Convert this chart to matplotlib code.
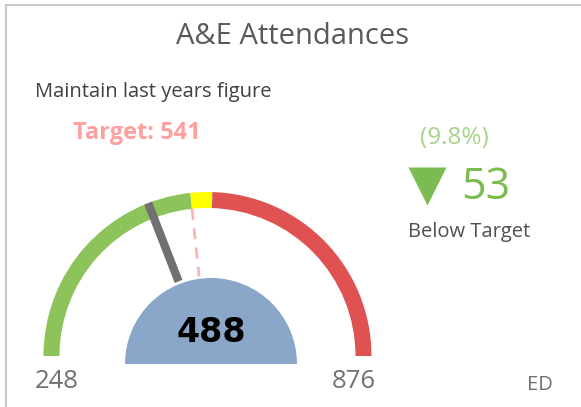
import matplotlib.pyplot as plt
from matplotlib.patches import Wedge
import numpy as np

# gauge data
gauge_min = 248
gauge_max = 876
target = 541
amber_limit = 568
actual = 488
title = "A&E Attendances"
subtitle = "Maintain last years figure"
variance = target - actual
variance_pct = "(9.8%)"
tag = "ED"

plt.rcParams['font.family'] = ['Open Sans', 'DejaVu Sans']

fig = plt.figure(figsize=(5.81, 4.07), dpi=100)
ax = fig.add_axes([0, 0, 1, 1])
ax.set_xlim(0, 581)
ax.set_ylim(407, 0)
ax.set_aspect('equal')
ax.axis('off')

# card border (left and top only visible)
ax.plot([6, 6], [407, 5], color='#c8c8c8', lw=1.5)
ax.plot([6, 581], [5, 5], color='#c8c8c8', lw=1.5)


def to_angle(v):
    # 180 deg at gauge_min (left), 0 at gauge_max (right)
    return 180 - (v - gauge_min) / (gauge_max - gauge_min) * 180


cx, cy = 207.5, 356
r_out, width = 164, 16

bands = [(gauge_min, target, '#8cc35a'),
         (target, amber_limit, '#ffff00'),
         (amber_limit, gauge_max, '#e05252')]
for lo, hi, col in bands:
    # y axis is flipped, so the angles are mirrored
    w = Wedge((cx, cy), r_out, -to_angle(lo), -to_angle(hi), width=width,
              facecolor=col, edgecolor='none')
    ax.add_patch(w)

# blue hub
hub = Wedge((211, 364), 86, 180, 360, facecolor='#8aa7ca', edgecolor='none')
ax.add_patch(hub)

# target dashed line
a = np.radians(to_angle(target))
ax.plot([cx + (r_out - width) * np.cos(a), cx + 80 * np.cos(a)],
        [cy - (r_out - width) * np.sin(a), cy - 80 * np.sin(a)],
        color='#ffb3b3', lw=2, ls=(0, (4, 3)), zorder=1)

# needle
a = np.radians(to_angle(actual))
ax.plot([cx + r_out * np.cos(a), cx + 80 * np.cos(a)],
        [cy - r_out * np.sin(a), cy - 80 * np.sin(a)],
        color='#707070', lw=6, solid_capstyle='butt', zorder=1)

ax.text(211, 333, str(actual), ha='center', va='center', fontsize=24,
        fontweight='bold', color='black', family='DejaVu Sans')

# texts
ax.text(293, 36, title, ha='center', va='center', fontsize=21, color='#595959')
ax.text(35, 92, subtitle, ha='left', va='center', fontsize=14.5, color='#404040')
ax.text(137, 133, f"Target: {target}", ha='center', va='center', fontsize=17,
        fontweight='bold', color='#ffa0a0')
ax.text(454, 138, variance_pct, ha='center', va='center', fontsize=17.5,
        color='#a6d38a')
ax.plot([427], [186], marker='v', markersize=27, color='#7cbb4f', mec='none')
ax.text(486, 188, str(variance), ha='center', va='center', fontsize=31,
        color='#7cbb4f')
ax.text(469, 232, "Below Target", ha='center', va='center', fontsize=14.5,
        color='#505050')
ax.text(57, 382, str(gauge_min), ha='center', va='center', fontsize=18.5,
        color='#707070')
ax.text(354, 382, str(gauge_max), ha='center', va='center', fontsize=18.5,
        color='#707070')
ax.text(540, 385, tag, ha='center', va='center', fontsize=14.5, color='#707070')

fig.savefig('out.png', dpi=100)
